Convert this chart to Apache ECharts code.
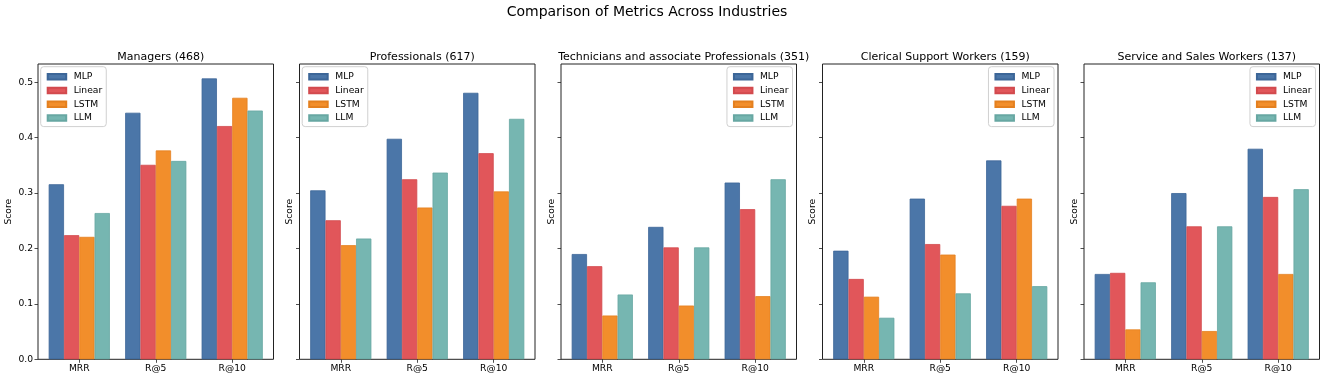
<!DOCTYPE html>
<html>
<head>
<meta charset="utf-8">
<script src="https://cdn.jsdelivr.net/npm/echarts@6/dist/echarts.min.js"></script>
<style>
html,body{margin:0;padding:0;background:#fff;}
#chart{width:1325px;height:379px;}
</style>
</head>
<body>
<div id="chart"></div>
<script>
// ---- data ----
const mainTitle = 'Comparison of Metrics Across Industries';
const categories = ['MRR', 'R@5', 'R@10'];
const models = ['MLP', 'Linear', 'LSTM', 'LLM'];
const panelTitles = [
  'Managers (468)',
  'Professionals (617)',
  'Technicians and associate Professionals (351)',
  'Clerical Support Workers (159)',
  'Service and Sales Workers (137)'
];
// rows: MLP, Linear, LSTM, LLM; columns: MRR, R@5, R@10
const managers = [
  [0.316, 0.445, 0.507],
  [0.224, 0.351, 0.421],
  [0.221, 0.377, 0.472],
  [0.264, 0.358, 0.449]
];
const professionals = [
  [0.305, 0.398, 0.481],
  [0.251, 0.325, 0.372],
  [0.206, 0.274, 0.303],
  [0.218, 0.337, 0.434]
];
const technicians = [
  [0.190, 0.239, 0.319],
  [0.168, 0.202, 0.271],
  [0.079, 0.097, 0.114],
  [0.117, 0.202, 0.325]
];
const clerical = [
  [0.196, 0.290, 0.359],
  [0.145, 0.208, 0.277],
  [0.113, 0.189, 0.290],
  [0.075, 0.119, 0.132]
];
const service = [
  [0.154, 0.300, 0.380],
  [0.156, 0.240, 0.293],
  [0.054, 0.051, 0.154],
  [0.139, 0.240, 0.307]
];
const yTicks = [0.0, 0.1, 0.2, 0.3, 0.4, 0.5];
const yMax = 0.533;
const legendSide = ['left', 'left', 'right', 'right', 'right'];

const panels = [managers, professionals, technicians, clerical, service];
const colors = ['#4b76a8', '#e1565a', '#f28e2b', '#76b6b1'];
const borders = ['#3c6698', '#d24a4e', '#e4801f', '#67a7a2'];

// ---- layout ----
const W = 1325;
const frameLefts = [38, 299.5, 561, 822.5, 1084];
const frameW = 235.5;
const gridTop = 64, gridH = 295.3;
const span = 3.08; // matplotlib x-range incl. margins
const dataW = frameW * 3 / span;
const inset = (frameW - dataW) / 2;
const font = 'DejaVu Sans';
const tickFont = 9.2;

const grids = [], xAxes = [], yAxes = [], series = [], titles = [], legends = [];
titles.push({
  text: mainTitle, left: 642, top: 0, textAlign: 'center',
  textStyle: { fontFamily: font, fontSize: 14, fontWeight: 'normal', color: '#000' }
});

panels.forEach((data, p) => {
  const fl = frameLefts[p];
  // frame grid
  grids.push({ left: fl, top: gridTop, width: frameW, height: gridH, show: true,
    borderColor: '#222', borderWidth: 1, backgroundColor: 'transparent' });
  const fi = grids.length - 1;
  xAxes.push({ gridIndex: fi, type: 'value', show: false, min: 0, max: 1 });
  yAxes.push({ gridIndex: fi, type: 'value', show: false, min: 0, max: 1 });
  // data grid
  grids.push({ left: fl + inset, top: gridTop, width: dataW, height: gridH });
  const di = grids.length - 1;
  xAxes.push({
    gridIndex: di, type: 'category', data: categories,
    axisLine: { show: false },
    axisTick: { show: true, alignWithLabel: true, length: 3.5, lineStyle: { color: '#222', width: 0.8 } },
    axisLabel: { fontFamily: font, fontSize: tickFont, color: '#000', margin: 5 }
  });
  yAxes.push({
    gridIndex: di, type: 'value', min: 0, max: yMax,
    position: 'left', offset: inset,
    name: 'Score', nameLocation: 'middle', nameGap: p === 0 ? 24.5 : 5,
    nameTextStyle: { fontFamily: font, fontSize: tickFont, color: '#000' },
    splitLine: { show: false },
    axisLine: { show: false },
    axisTick: { show: true, length: 3.5, customValues: yTicks, lineStyle: { color: '#222', width: 0.8 } },
    axisLabel: { show: p === 0, customValues: yTicks, fontFamily: font, fontSize: tickFont, color: '#000', margin: 5,
      formatter: v => v.toFixed(1) }
  });
  const xi = xAxes.length - 1, yi = yAxes.length - 1;
  models.forEach((m, k) => {
    series.push({
      type: 'bar', name: m, xAxisIndex: xi, yAxisIndex: yi,
      data: data[k], barGap: '0%', barCategoryGap: '20%',
      itemStyle: { color: colors[k], opacity: 1, borderColor: borders[k], borderWidth: 0.8 },
      emphasis: { disabled: true }
    });
  });
  titles.push({
    text: panelTitles[p], left: fl + frameW / 2, top: 47, textAlign: 'center',
    textStyle: { fontFamily: font, fontSize: 11, fontWeight: 'normal', color: '#000' }
  });
  const lg = {
    data: models, orient: 'vertical', top: gridTop + 2.7, icon: 'rect',
    itemWidth: 18.5, itemHeight: 5.5, itemGap: 3.8,
    textStyle: { fontFamily: font, fontSize: tickFont, color: '#000', lineHeight: 10, padding: [0, 0, 0, 2.5] },
    backgroundColor: 'rgba(255,255,255,0.8)', borderColor: '#d0d0d0', borderWidth: 1, borderRadius: 3,
    padding: [5, 4, 3.5, 6], selectedMode: false
  };
  if (legendSide[p] === 'left') lg.left = fl + 2.7;
  else lg.right = W - (fl + frameW) + 4;
  legends.push(lg);
});

const chart = echarts.init(document.getElementById('chart'), null, { renderer: 'canvas' });
chart.setOption({
  animation: false,
  backgroundColor: '#fff',
  title: titles,
  legend: legends,
  grid: grids,
  xAxis: xAxes,
  yAxis: yAxes,
  series: series
});
</script>
</body>
</html>
